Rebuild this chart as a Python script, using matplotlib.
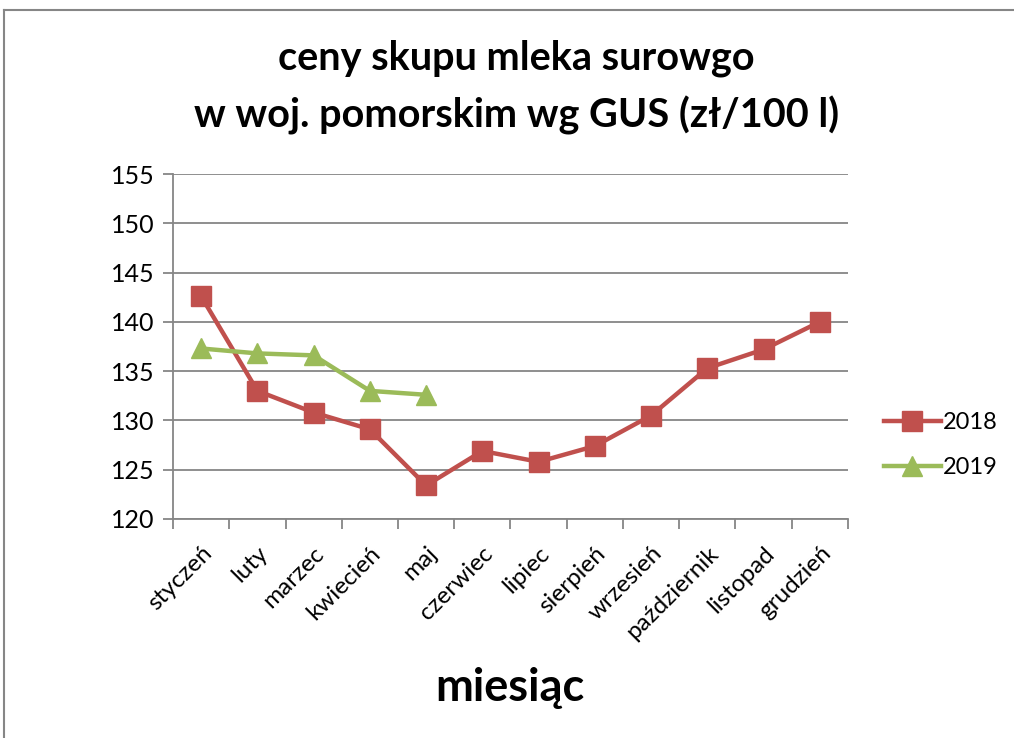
import matplotlib.pyplot as plt
from matplotlib.lines import Line2D
import numpy as np

plt.rcParams['font.family'] = ['Lato', 'DejaVu Sans']

## data
months = ['styczeń', 'luty', 'marzec', 'kwiecień', 'maj', 'czerwiec', 'lipiec',
          'sierpień', 'wrzesień', 'październik', 'listopad', 'grudzień']
price_2018 = [142.6, 133.0, 130.8, 129.1, 123.4, 126.9, 125.8, 127.4, 130.5, 135.3, 137.2, 140.0]
price_2019 = [137.3, 136.8, 136.6, 133.0, 132.6]
y_ticks = [120, 125, 130, 135, 140, 145, 150, 155]

red = '#C0504D'
green = '#9BBB59'
grey = '#868686'

fig = plt.figure(figsize=(10.14, 7.38), dpi=100)
ax = fig.add_axes([173/1014, 1-519/738, (848-173)/1014, (519-174)/738])

x = np.arange(len(months))
ax.plot(x, price_2018, color=red, lw=3.2, marker='s', ms=14, mec=red, label='2018', zorder=3)
ax.plot(x[:len(price_2019)], price_2019, color=green, lw=3.2, marker='^', ms=15, mec=green, label='2019', zorder=3)

ax.set_xlim(-0.5, len(months) - 0.5)
ax.set_ylim(120, 155)
ax.set_yticks(y_ticks)
ax.yaxis.grid(True, color=grey, lw=1.3)
ax.set_axisbelow(True)

# category labels centered, tick marks between categories (excel style)
ax.set_xticks(x)
ax.set_xticklabels(months, rotation=45, ha='right', rotation_mode='anchor', fontsize=17.5)
ax.set_xticks(np.arange(-0.5, len(months)), minor=True)
ax.tick_params(axis='x', which='major', length=0, pad=17)
ax.tick_params(axis='x', which='minor', length=7, width=1.3, color=grey, direction='out')
ax.tick_params(axis='y', length=7, width=1.3, color=grey, labelsize=18, pad=6)

for s in ['top', 'right']:
    ax.spines[s].set_visible(False)
for s in ['left', 'bottom']:
    ax.spines[s].set_color(grey)
    ax.spines[s].set_linewidth(1.3)

fig.text(0.509, 1-58/738, 'ceny skupu mleka surowgo', ha='center', va='center',
         fontsize=28.5, fontweight='bold')
fig.text(0.509, 1-115/738, 'w woj. pomorskim wg GUS (zł/100 l)', ha='center', va='center',
         fontsize=28.5, fontweight='bold')
fig.text(510/1014, 1-688/738, 'miesiąc', ha='center', va='center', fontsize=32.5, fontweight='bold')

ax.legend(loc='center left', bbox_to_anchor=(884/1014, 1-445/738), bbox_transform=fig.transFigure,
          frameon=False, fontsize=17, handlelength=2.4, handletextpad=0.1, labelspacing=1.0,
          borderaxespad=0, borderpad=0)

# outer chart frame (left and top edges visible)
fig.add_artist(Line2D([4/1014, 4/1014], [0, 1-10/738], color=grey, lw=1.5, transform=fig.transFigure))
fig.add_artist(Line2D([4/1014, 1], [1-10/738, 1-10/738], color=grey, lw=1.5, transform=fig.transFigure))

fig.savefig('out.png', dpi=100)
